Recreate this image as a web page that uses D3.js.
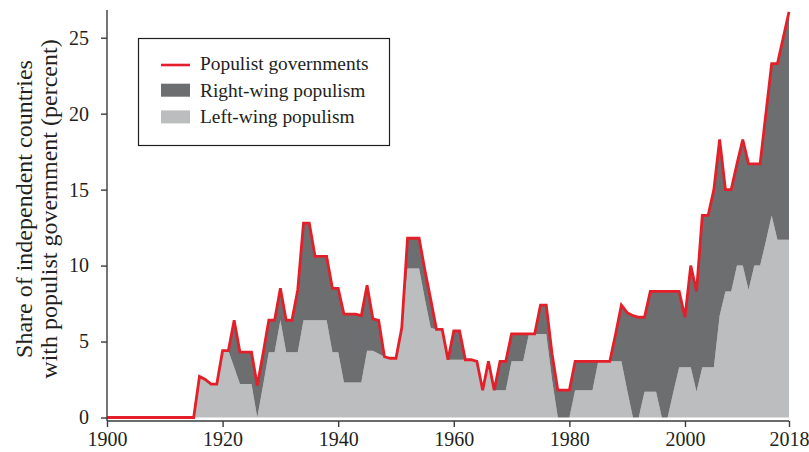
<!DOCTYPE html>
<html>
<head>
<meta charset="utf-8">
<script src="https://cdn.jsdelivr.net/npm/d3@7"></script>
<style>
  body { margin: 0; background: #fff; }
  text { font-family: "Liberation Serif", "Times New Roman", serif; fill: #231f20; }
</style>
</head>
<body>
<div id="chart"></div>
<script>
// yearly values, 1900 - 2018 (percent of independent countries)
const years = d3.range(1900, 2019);

const leftWing = [
  0,0,0,0,0,0,0,0,0,0, 0,0,0,0,0,0,               // 1900-1915
  2.7,2.5,2.2,2.2,                                 // 1916-1919
  4.4,4.4,3.3,2.2,2.2,2.2,0,2.1,4.3,4.3,           // 1920s
  6.4,4.3,4.3,4.3,6.4,6.4,6.4,6.4,6.4,4.3,         // 1930s
  4.3,2.3,2.3,2.3,2.3,4.4,4.4,4.2,4.0,3.9,         // 1940s
  3.9,5.9,9.8,9.8,9.8,7.8,5.9,5.8,5.8,3.8,         // 1950s
  3.8,3.8,3.8,3.8,3.7,1.8,3.7,1.8,1.8,1.8,         // 1960s
  3.7,3.7,3.7,5.5,5.5,5.5,5.5,2.5,0,0,             // 1970s
  0,1.8,1.8,1.8,1.8,3.7,3.7,3.7,3.7,3.7,           // 1980s
  1.8,0,0,1.7,1.7,1.7,0,0,1.7,3.3,                 // 1990s
  3.3,3.3,1.7,3.3,3.3,3.3,6.7,8.3,8.3,10.0,        // 2000s
  10.0,8.4,10.0,10.0,11.6,13.3,11.7,11.7,11.7      // 2010-2018
];

const rightWing = [
  0,0,0,0,0,0,0,0,0,0, 0,0,0,0,0,0,
  0,0,0,0,
  0,0,3.1,2.1,2.1,2.1,2.1,2.1,2.1,2.1,
  2.1,2.1,2.1,4.1,6.4,6.4,4.2,4.2,4.2,4.2,
  4.2,4.5,4.5,4.5,4.4,4.3,2.1,2.2,0,0,
  0,0,2.0,2.0,2.0,1.9,1.9,0,0,0,
  1.9,1.9,0,0,0,0,0,0,1.9,1.9,
  1.8,1.8,1.8,0,0,1.9,1.9,1.7,1.8,1.8,
  1.8,1.9,1.9,1.9,1.9,0,0,0,1.8,3.7,
  5.1,6.7,6.6,4.9,6.6,6.6,8.3,8.3,6.6,5.0,
  3.3,6.7,6.6,10.0,10.0,11.7,11.6,6.7,6.7,6.7,
  8.3,8.3,6.7,6.7,8.4,10.0,11.6,13.3,15.0
];

const populist = [
  0,0,0,0,0,0,0,0,0,0, 0,0,0,0,0,0,
  2.7,2.5,2.2,2.2,
  4.4,4.4,6.4,4.3,4.3,4.3,2.1,4.2,6.4,6.4,
  8.5,6.4,6.4,8.4,12.8,12.8,10.6,10.6,10.6,8.5,
  8.5,6.8,6.8,6.8,6.7,8.7,6.5,6.4,4.0,3.9,
  3.9,5.9,11.8,11.8,11.8,9.7,7.8,5.8,5.8,3.8,
  5.7,5.7,3.8,3.8,3.7,1.8,3.7,1.8,3.7,3.7,
  5.5,5.5,5.5,5.5,5.5,7.4,7.4,4.2,1.8,1.8,
  1.8,3.7,3.7,3.7,3.7,3.7,3.7,3.7,5.5,7.4,
  6.9,6.7,6.6,6.6,8.3,8.3,8.3,8.3,8.3,8.3,
  6.6,10.0,8.3,13.3,13.3,15.0,18.3,15.0,15.0,16.7,
  18.3,16.7,16.7,16.7,20.0,23.3,23.3,25.0,26.7
];

const yTicks = [0, 5, 10, 15, 20, 25];
const xTicks = [1900, 1920, 1940, 1960, 1980, 2000, 2018];
const legendLabels = ["Populist governments", "Right-wing populism", "Left-wing populism"];
const yTitle = ["Share of independent countries", "with populist government (percent)"];

const colors = { line: "#e3202a", right: "#6d6e70", left: "#bcbdbf", axis: "#3b3b3b" };

const width = 809, height = 452;

const table = years.map((yr, i) => ({ year: yr, left: leftWing[i], right: rightWing[i], total: populist[i] }));

const svg = d3.select("#chart").append("svg")
  .attr("width", width)
  .attr("height", height);

const x = d3.scaleLinear().domain([1900, 2018]).range([107, 789]);
const y = d3.scaleLinear().domain([0, 25]).range([417.5, 37.7]);

// stacked areas
const stack = d3.stack().keys(["left", "right"]);
const series = stack(table);

const area = d3.area()
  .x(d => x(d.data.year))
  .y0(d => y(d[0]))
  .y1(d => y(d[1]));

svg.append("g").selectAll("path")
  .data(series)
  .join("path")
    .attr("fill", d => d.key === "left" ? colors.left : colors.right)
    .attr("d", area);

// total line
const line = d3.line()
  .x(d => x(d.year))
  .y(d => y(d.total));

svg.append("path")
  .datum(table)
  .attr("fill", "none")
  .attr("stroke", colors.line)
  .attr("stroke-width", 2.8)
  .attr("stroke-linejoin", "miter")
  .attr("d", line);

// y axis
const yAxisG = svg.append("g")
  .attr("transform", "translate(107,0)")
  .call(d3.axisLeft(y).tickValues(yTicks).tickSize(6).tickPadding(12).tickSizeOuter(0));
yAxisG.select(".domain").remove();
yAxisG.append("line")
  .attr("x1", 0).attr("x2", 0)
  .attr("y1", 10).attr("y2", 421)
  .attr("stroke", colors.axis).attr("stroke-width", 1.4);

// x axis
const xAxisG = svg.append("g")
  .attr("transform", "translate(0,421)")
  .call(d3.axisBottom(x).tickValues(xTicks).tickFormat(d3.format("d")).tickSize(6).tickPadding(5).tickSizeOuter(0));
xAxisG.select(".domain").remove();
xAxisG.append("line")
  .attr("x1", 107).attr("x2", 789)
  .attr("y1", 0).attr("y2", 0)
  .attr("stroke", colors.axis).attr("stroke-width", 1.4);

[yAxisG, xAxisG].forEach(g => {
  g.selectAll(".tick line").attr("stroke", colors.axis).attr("stroke-width", 1.4);
  g.selectAll(".tick text")
    .attr("fill", "#231f20")
    .style("font-family", "'Liberation Serif', serif")
    .style("font-size", "20px");
});

// y title
svg.append("g")
  .attr("transform", "translate(0,209) rotate(-90)")
  .selectAll("text")
  .data(yTitle)
  .join("text")
    .attr("x", 0)
    .attr("y", (d, i) => 32 + i * 25)
    .attr("text-anchor", "middle")
    .style("font-size", "24px")
    .text(d => d);

// legend
const legend = svg.append("g");
legend.append("rect")
  .attr("x", 138.5).attr("y", 38.5)
  .attr("width", 251).attr("height", 107)
  .attr("fill", "#fff")
  .attr("stroke", "#231f20").attr("stroke-width", 1.2);

const rows = legend.selectAll("g.row")
  .data(legendLabels)
  .join("g")
    .attr("class", "row")
    .attr("transform", (d, i) => `translate(0,${70 + i * 26.7})`);

rows.each(function(d, i) {
  const g = d3.select(this);
  if (i === 0) {
    g.append("line")
      .attr("x1", 161).attr("x2", 190)
      .attr("y1", -5).attr("y2", -5)
      .attr("stroke", colors.line).attr("stroke-width", 2.6);
  } else {
    g.append("rect")
      .attr("x", 161).attr("y", -13)
      .attr("width", 29).attr("height", 13)
      .attr("fill", i === 1 ? colors.right : colors.left);
  }
  g.append("text")
    .attr("x", 200).attr("y", 0)
    .style("font-size", "19.4px")
    .text(d);
});
</script>
</body>
</html>
